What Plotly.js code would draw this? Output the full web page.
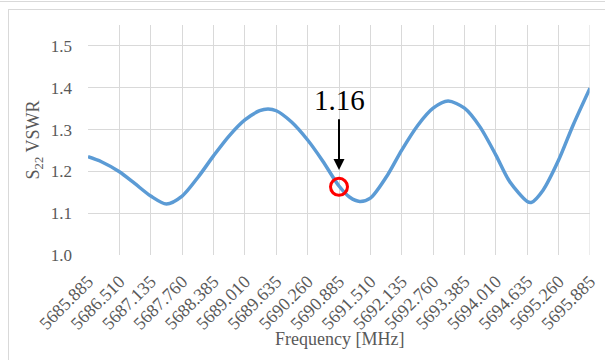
<!DOCTYPE html>
<html>
<head>
<meta charset="utf-8">
<script src="https://cdn.plot.ly/plotly-3.0.1.min.js"></script>
<style>
  html, body { margin: 0; padding: 0; width: 605px; height: 360px; overflow: hidden; background: #fff; }
  #frame { position: absolute; left: 8px; top: 9px; width: 700px; height: 500px; border: 1px solid #d9d9d9; }
  #topline { position: absolute; left: 0; top: 1px; width: 605px; height: 0; border-top: 1px solid #d9d9d9; }
  #chart { position: absolute; left: 0; top: 0; width: 605px; height: 360px; }
</style>
</head>
<body>
<div id="topline"></div>
<div id="frame"></div>
<div id="chart"></div>
<script>
// Frequency samples (MHz) and S22 VSWR values
const freq = [5685.885, 5686.152, 5686.510, 5686.815, 5687.135, 5687.447, 5687.760, 5688.077,
  5688.385, 5688.698, 5689.010, 5689.305, 5689.471, 5689.635, 5689.940, 5690.260, 5690.560,
  5690.885, 5691.100, 5691.298, 5691.510, 5691.830, 5692.135, 5692.460, 5692.760, 5693.058,
  5693.385, 5693.690, 5694.010, 5694.287, 5694.635, 5694.720, 5694.950, 5695.260, 5695.550, 5695.885];
const vswr = [1.235, 1.223, 1.199, 1.171, 1.141, 1.122, 1.141, 1.186,
  1.237, 1.285, 1.323, 1.345, 1.349, 1.345, 1.318, 1.275, 1.225,
  1.165, 1.138, 1.128, 1.136, 1.187, 1.251, 1.311, 1.351, 1.368,
  1.351, 1.307, 1.239, 1.175, 1.128, 1.126, 1.155, 1.227, 1.311, 1.399];

const tickVals = [5685.885, 5686.510, 5687.135, 5687.760, 5688.385, 5689.010, 5689.635, 5690.260,
  5690.885, 5691.510, 5692.135, 5692.760, 5693.385, 5694.010, 5694.635, 5695.260, 5695.885];
const tickText = ["5685.885", "5686.510", "5687.135", "5687.760", "5688.385", "5689.010", "5689.635", "5690.260",
  "5690.885", "5691.510", "5692.135", "5692.760", "5693.385", "5694.010", "5694.635", "5695.260", "5695.885"];
const yTicks = [1.0, 1.1, 1.2, 1.3, 1.4, 1.5];

const xTitle = "Frequency [MHz]";
const yTitle = "S<sub>22</sub> VSWR";

const markFreq = [5690.885];
const markVal = [1.163];
const markLabel = "1.16";
const labelVal = 1.371;
const arrowTipVal = 1.203;

const font = "Liberation Serif";

const traces = [
  {
    x: freq, y: vswr, type: "scatter", mode: "lines",
    line: { color: "#5B9BD5", width: 3.5, shape: "spline", smoothing: 0.8 },
    hoverinfo: "skip", showlegend: false
  },
  {
    x: markFreq, y: markVal, type: "scatter", mode: "markers",
    marker: { symbol: "circle-open", size: 17, color: "#ff0000", line: { width: 3, color: "#ff0000" } },
    showlegend: false, hoverinfo: "skip"
  }
];

const layout = {
  width: 605, height: 360,
  margin: { l: 88, r: 15, t: 25, b: 105 },
  paper_bgcolor: "rgba(0,0,0,0)",
  plot_bgcolor: "rgba(0,0,0,0)",
  showlegend: false,
  font: { family: font, size: 17, color: "#595959" },
  xaxis: {
    range: [5685.885, 5695.885],
    tickmode: "array", tickvals: tickVals, ticktext: tickText,
    tickangle: -45,
    showgrid: true, gridcolor: "#d9d9d9", gridwidth: 1,
    zeroline: false, showline: false,
    ticks: "outside", ticklen: 8, tickcolor: "rgba(0,0,0,0)",
    tickfont: { family: font, size: 18, color: "#595959" }
  },
  yaxis: {
    range: [1.0, 1.55],
    tickmode: "array", tickvals: yTicks, tickformat: ".1f",
    showgrid: true, gridcolor: "#d9d9d9", gridwidth: 1,
    zeroline: false, showline: false, ticks: "",
    ticklabelstandoff: 15,
    tickfont: { family: font, size: 17, color: "#595959" },
    title: { text: yTitle, font: { family: font, size: 18, color: "#595959" }, standoff: 6 }
  },
  shapes: [
    { type: "line", xref: "x", yref: "paper", x0: 5695.885, x1: 5695.885, y0: 0, y1: 1,
      line: { color: "#d9d9d9", width: 1 } }
  ],
  annotations: [
    {
      x: markFreq[0], y: arrowTipVal, xref: "x", yref: "y",
      ax: markFreq[0], ay: labelVal, axref: "x", ayref: "y",
      text: markLabel, showarrow: true, arrowhead: 2, arrowsize: 1.1, arrowwidth: 2, arrowcolor: "#000",
      startstandoff: 2,
      font: { family: font, size: 29, color: "#000" }
    },
    {
      x: 0.5, y: -0.365, xref: "paper", yref: "paper", xanchor: "center", yanchor: "middle",
      text: xTitle, showarrow: false,
      font: { family: font, size: 18, color: "#595959" }
    }
  ]
};

Plotly.newPlot("chart", traces, layout, { staticPlot: true, displayModeBar: false });
</script>
</body>
</html>
